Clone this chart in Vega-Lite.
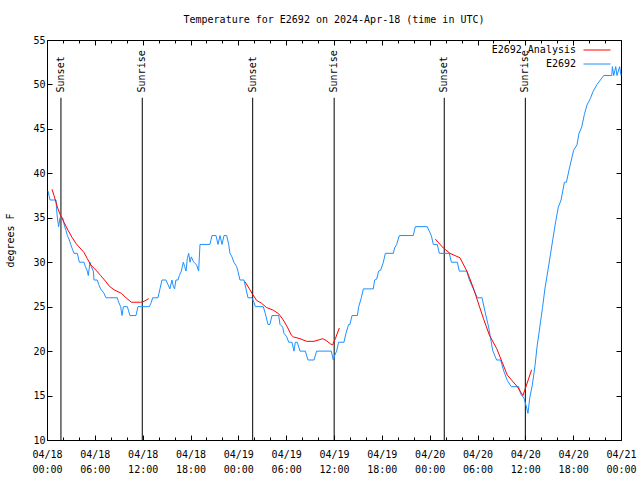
{
  "$schema": "https://vega.github.io/schema/vega-lite/v6.json",
  "width": 574,
  "height": 400,
  "autosize": {"type": "none"},
  "padding": {"left": 47, "top": 40, "right": 19, "bottom": 40},
  "background": "white",
  "config": {
    "font": "DejaVu Sans Mono",
    "view": {"stroke": "black", "strokeWidth": 1},
    "axis": {"labelFont": "DejaVu Sans Mono", "titleFont": "DejaVu Sans Mono", "labelFontSize": 10, "titleFontSize": 10, "labelColor": "black", "titleColor": "black", "titleFontWeight": "normal", "domainColor": "black", "tickColor": "black", "grid": false},
    "legend": {"labelFont": "DejaVu Sans Mono", "labelFontSize": 10, "labelColor": "black"}
  },
  "title": {"text": "Temperature for E2692 on 2024-Apr-18 (time in UTC)", "font": "DejaVu Sans Mono", "fontSize": 10, "fontWeight": "normal", "color": "black", "offset": 10, "anchor": "middle"},
  "datasets": {
    "temps": [
      {"series": "E2692", "seg": "o", "hour": 0.13, "temp": 38},
      {"series": "E2692", "seg": "o", "hour": 0.38, "temp": 37},
      {"series": "E2692", "seg": "o", "hour": 1.13, "temp": 37},
      {"series": "E2692", "seg": "o", "hour": 1.2, "temp": 36},
      {"series": "E2692", "seg": "o", "hour": 1.3, "temp": 35},
      {"series": "E2692", "seg": "o", "hour": 1.46, "temp": 34},
      {"series": "E2692", "seg": "o", "hour": 1.63, "temp": 35},
      {"series": "E2692", "seg": "o", "hour": 1.97, "temp": 35},
      {"series": "E2692", "seg": "o", "hour": 2.22, "temp": 34},
      {"series": "E2692", "seg": "o", "hour": 2.38, "temp": 33.6},
      {"series": "E2692", "seg": "o", "hour": 2.55, "temp": 33},
      {"series": "E2692", "seg": "o", "hour": 2.8, "temp": 32.5},
      {"series": "E2692", "seg": "o", "hour": 2.97, "temp": 32},
      {"series": "E2692", "seg": "o", "hour": 3.22, "temp": 31.4},
      {"series": "E2692", "seg": "o", "hour": 3.39, "temp": 31},
      {"series": "E2692", "seg": "o", "hour": 3.8, "temp": 31},
      {"series": "E2692", "seg": "o", "hour": 4.06, "temp": 30},
      {"series": "E2692", "seg": "o", "hour": 4.64, "temp": 30},
      {"series": "E2692", "seg": "o", "hour": 4.81, "temp": 29.5},
      {"series": "E2692", "seg": "o", "hour": 5.06, "temp": 29},
      {"series": "E2692", "seg": "o", "hour": 5.18, "temp": 28.5},
      {"series": "E2692", "seg": "o", "hour": 5.39, "temp": 30},
      {"series": "E2692", "seg": "o", "hour": 5.56, "temp": 29.5},
      {"series": "E2692", "seg": "o", "hour": 5.81, "temp": 29},
      {"series": "E2692", "seg": "o", "hour": 5.9, "temp": 28},
      {"series": "E2692", "seg": "o", "hour": 6.31, "temp": 28},
      {"series": "E2692", "seg": "o", "hour": 6.48, "temp": 27.5},
      {"series": "E2692", "seg": "o", "hour": 6.73, "temp": 27},
      {"series": "E2692", "seg": "o", "hour": 7.15, "temp": 26.5},
      {"series": "E2692", "seg": "o", "hour": 7.4, "temp": 26},
      {"series": "E2692", "seg": "o", "hour": 8.82, "temp": 26},
      {"series": "E2692", "seg": "o", "hour": 8.99, "temp": 25.5},
      {"series": "E2692", "seg": "o", "hour": 9.24, "temp": 25},
      {"series": "E2692", "seg": "o", "hour": 9.41, "temp": 24},
      {"series": "E2692", "seg": "o", "hour": 9.58, "temp": 25},
      {"series": "E2692", "seg": "o", "hour": 10.08, "temp": 25},
      {"series": "E2692", "seg": "o", "hour": 10.24, "temp": 24.5},
      {"series": "E2692", "seg": "o", "hour": 10.41, "temp": 24},
      {"series": "E2692", "seg": "o", "hour": 11.16, "temp": 24},
      {"series": "E2692", "seg": "o", "hour": 11.41, "temp": 25},
      {"series": "E2692", "seg": "o", "hour": 12.84, "temp": 25},
      {"series": "E2692", "seg": "o", "hour": 13.09, "temp": 25.5},
      {"series": "E2692", "seg": "o", "hour": 13.25, "temp": 26},
      {"series": "E2692", "seg": "o", "hour": 13.92, "temp": 26},
      {"series": "E2692", "seg": "o", "hour": 14.17, "temp": 27},
      {"series": "E2692", "seg": "o", "hour": 14.42, "temp": 28},
      {"series": "E2692", "seg": "o", "hour": 14.92, "temp": 28},
      {"series": "E2692", "seg": "o", "hour": 15.17, "temp": 27.5},
      {"series": "E2692", "seg": "o", "hour": 15.42, "temp": 27},
      {"series": "E2692", "seg": "o", "hour": 15.67, "temp": 28},
      {"series": "E2692", "seg": "o", "hour": 15.84, "temp": 27.3},
      {"series": "E2692", "seg": "o", "hour": 16.0, "temp": 27},
      {"series": "E2692", "seg": "o", "hour": 16.17, "temp": 28},
      {"series": "E2692", "seg": "o", "hour": 16.43, "temp": 28},
      {"series": "E2692", "seg": "o", "hour": 16.6, "temp": 28.5},
      {"series": "E2692", "seg": "o", "hour": 16.85, "temp": 29},
      {"series": "E2692", "seg": "o", "hour": 17.1, "temp": 30},
      {"series": "E2692", "seg": "o", "hour": 17.27, "temp": 29.5},
      {"series": "E2692", "seg": "o", "hour": 17.44, "temp": 29},
      {"series": "E2692", "seg": "o", "hour": 17.6, "temp": 30.4},
      {"series": "E2692", "seg": "o", "hour": 17.77, "temp": 31},
      {"series": "E2692", "seg": "o", "hour": 17.94, "temp": 30},
      {"series": "E2692", "seg": "o", "hour": 18.1, "temp": 30.6},
      {"series": "E2692", "seg": "o", "hour": 18.35, "temp": 30.1},
      {"series": "E2692", "seg": "o", "hour": 18.52, "temp": 29.9},
      {"series": "E2692", "seg": "o", "hour": 18.77, "temp": 29.7},
      {"series": "E2692", "seg": "o", "hour": 19.02, "temp": 29},
      {"series": "E2692", "seg": "o", "hour": 19.19, "temp": 32},
      {"series": "E2692", "seg": "o", "hour": 20.44, "temp": 32},
      {"series": "E2692", "seg": "o", "hour": 20.7, "temp": 33},
      {"series": "E2692", "seg": "o", "hour": 21.2, "temp": 33},
      {"series": "E2692", "seg": "o", "hour": 21.45, "temp": 32},
      {"series": "E2692", "seg": "o", "hour": 21.7, "temp": 33},
      {"series": "E2692", "seg": "o", "hour": 21.95, "temp": 32},
      {"series": "E2692", "seg": "o", "hour": 22.2, "temp": 33},
      {"series": "E2692", "seg": "o", "hour": 22.54, "temp": 33},
      {"series": "E2692", "seg": "o", "hour": 22.79, "temp": 32},
      {"series": "E2692", "seg": "o", "hour": 22.95, "temp": 31},
      {"series": "E2692", "seg": "o", "hour": 23.2, "temp": 30.6},
      {"series": "E2692", "seg": "o", "hour": 23.45, "temp": 30},
      {"series": "E2692", "seg": "o", "hour": 23.79, "temp": 29.5},
      {"series": "E2692", "seg": "o", "hour": 23.95, "temp": 29},
      {"series": "E2692", "seg": "o", "hour": 24.2, "temp": 28},
      {"series": "E2692", "seg": "o", "hour": 24.71, "temp": 28},
      {"series": "E2692", "seg": "o", "hour": 24.96, "temp": 27},
      {"series": "E2692", "seg": "o", "hour": 25.21, "temp": 26},
      {"series": "E2692", "seg": "o", "hour": 25.71, "temp": 26},
      {"series": "E2692", "seg": "o", "hour": 25.96, "temp": 25.5},
      {"series": "E2692", "seg": "o", "hour": 26.13, "temp": 25},
      {"series": "E2692", "seg": "o", "hour": 27.13, "temp": 25},
      {"series": "E2692", "seg": "o", "hour": 27.39, "temp": 24.2},
      {"series": "E2692", "seg": "o", "hour": 27.72, "temp": 23},
      {"series": "E2692", "seg": "o", "hour": 27.97, "temp": 23},
      {"series": "E2692", "seg": "o", "hour": 28.22, "temp": 24},
      {"series": "E2692", "seg": "o", "hour": 29.06, "temp": 24},
      {"series": "E2692", "seg": "o", "hour": 29.23, "temp": 23},
      {"series": "E2692", "seg": "o", "hour": 29.56, "temp": 22.7},
      {"series": "E2692", "seg": "o", "hour": 29.73, "temp": 22},
      {"series": "E2692", "seg": "o", "hour": 30.07, "temp": 21.6},
      {"series": "E2692", "seg": "o", "hour": 30.32, "temp": 21},
      {"series": "E2692", "seg": "o", "hour": 30.73, "temp": 21},
      {"series": "E2692", "seg": "o", "hour": 30.98, "temp": 20},
      {"series": "E2692", "seg": "o", "hour": 31.15, "temp": 21},
      {"series": "E2692", "seg": "o", "hour": 31.4, "temp": 21},
      {"series": "E2692", "seg": "o", "hour": 31.73, "temp": 20},
      {"series": "E2692", "seg": "o", "hour": 32.4, "temp": 20},
      {"series": "E2692", "seg": "o", "hour": 32.74, "temp": 19},
      {"series": "E2692", "seg": "o", "hour": 33.49, "temp": 19},
      {"series": "E2692", "seg": "o", "hour": 33.82, "temp": 20},
      {"series": "E2692", "seg": "o", "hour": 35.66, "temp": 20},
      {"series": "E2692", "seg": "o", "hour": 35.91, "temp": 19},
      {"series": "E2692", "seg": "o", "hour": 36.08, "temp": 19.5},
      {"series": "E2692", "seg": "o", "hour": 36.33, "temp": 20},
      {"series": "E2692", "seg": "o", "hour": 36.58, "temp": 21},
      {"series": "E2692", "seg": "o", "hour": 37.25, "temp": 21},
      {"series": "E2692", "seg": "o", "hour": 37.5, "temp": 22},
      {"series": "E2692", "seg": "o", "hour": 37.84, "temp": 23},
      {"series": "E2692", "seg": "o", "hour": 38.0, "temp": 23},
      {"series": "E2692", "seg": "o", "hour": 38.26, "temp": 24},
      {"series": "E2692", "seg": "o", "hour": 38.93, "temp": 24},
      {"series": "E2692", "seg": "o", "hour": 39.1, "temp": 25},
      {"series": "E2692", "seg": "o", "hour": 39.43, "temp": 26},
      {"series": "E2692", "seg": "o", "hour": 39.68, "temp": 27},
      {"series": "E2692", "seg": "o", "hour": 40.93, "temp": 27},
      {"series": "E2692", "seg": "o", "hour": 41.1, "temp": 28},
      {"series": "E2692", "seg": "o", "hour": 41.35, "temp": 28.1},
      {"series": "E2692", "seg": "o", "hour": 41.6, "temp": 29},
      {"series": "E2692", "seg": "o", "hour": 41.85, "temp": 29.1},
      {"series": "E2692", "seg": "o", "hour": 42.19, "temp": 30},
      {"series": "E2692", "seg": "o", "hour": 42.44, "temp": 31},
      {"series": "E2692", "seg": "o", "hour": 43.44, "temp": 31},
      {"series": "E2692", "seg": "o", "hour": 43.6, "temp": 31.6},
      {"series": "E2692", "seg": "o", "hour": 43.86, "temp": 32},
      {"series": "E2692", "seg": "o", "hour": 44.19, "temp": 33},
      {"series": "E2692", "seg": "o", "hour": 45.94, "temp": 33},
      {"series": "E2692", "seg": "o", "hour": 46.2, "temp": 34},
      {"series": "E2692", "seg": "o", "hour": 47.7, "temp": 34},
      {"series": "E2692", "seg": "o", "hour": 47.95, "temp": 33.5},
      {"series": "E2692", "seg": "o", "hour": 48.21, "temp": 33},
      {"series": "E2692", "seg": "o", "hour": 48.46, "temp": 32},
      {"series": "E2692", "seg": "o", "hour": 48.96, "temp": 32},
      {"series": "E2692", "seg": "o", "hour": 49.21, "temp": 31},
      {"series": "E2692", "seg": "o", "hour": 50.47, "temp": 31},
      {"series": "E2692", "seg": "o", "hour": 50.72, "temp": 30},
      {"series": "E2692", "seg": "o", "hour": 51.47, "temp": 30},
      {"series": "E2692", "seg": "o", "hour": 51.72, "temp": 29},
      {"series": "E2692", "seg": "o", "hour": 52.64, "temp": 29},
      {"series": "E2692", "seg": "o", "hour": 52.98, "temp": 28},
      {"series": "E2692", "seg": "o", "hour": 53.48, "temp": 27},
      {"series": "E2692", "seg": "o", "hour": 53.98, "temp": 26},
      {"series": "E2692", "seg": "o", "hour": 54.57, "temp": 26},
      {"series": "E2692", "seg": "o", "hour": 54.9, "temp": 24.6},
      {"series": "E2692", "seg": "o", "hour": 55.4, "temp": 22.7},
      {"series": "E2692", "seg": "o", "hour": 55.9, "temp": 20.1},
      {"series": "E2692", "seg": "o", "hour": 56.4, "temp": 19},
      {"series": "E2692", "seg": "o", "hour": 56.9, "temp": 19},
      {"series": "E2692", "seg": "o", "hour": 57.32, "temp": 17.7},
      {"series": "E2692", "seg": "o", "hour": 57.74, "temp": 16.7},
      {"series": "E2692", "seg": "o", "hour": 58.24, "temp": 16},
      {"series": "E2692", "seg": "o", "hour": 59.16, "temp": 16},
      {"series": "E2692", "seg": "o", "hour": 59.41, "temp": 15.2},
      {"series": "E2692", "seg": "o", "hour": 59.83, "temp": 14.7},
      {"series": "E2692", "seg": "o", "hour": 60.17, "temp": 13.6},
      {"series": "E2692", "seg": "o", "hour": 60.33, "temp": 13},
      {"series": "E2692", "seg": "o", "hour": 60.55, "temp": 14.7},
      {"series": "E2692", "seg": "o", "hour": 60.88, "temp": 16.2},
      {"series": "E2692", "seg": "o", "hour": 61.22, "temp": 18.4},
      {"series": "E2692", "seg": "o", "hour": 61.47, "temp": 20.5},
      {"series": "E2692", "seg": "o", "hour": 61.8, "temp": 22.6},
      {"series": "E2692", "seg": "o", "hour": 62.14, "temp": 24.8},
      {"series": "E2692", "seg": "o", "hour": 62.47, "temp": 27.1},
      {"series": "E2692", "seg": "o", "hour": 62.8, "temp": 28.9},
      {"series": "E2692", "seg": "o", "hour": 63.14, "temp": 30.8},
      {"series": "E2692", "seg": "o", "hour": 63.47, "temp": 32.7},
      {"series": "E2692", "seg": "o", "hour": 63.81, "temp": 34.6},
      {"series": "E2692", "seg": "o", "hour": 64.14, "temp": 36.2},
      {"series": "E2692", "seg": "o", "hour": 64.48, "temp": 37},
      {"series": "E2692", "seg": "o", "hour": 64.9, "temp": 39},
      {"series": "E2692", "seg": "o", "hour": 65.15, "temp": 39},
      {"series": "E2692", "seg": "o", "hour": 65.56, "temp": 40.7},
      {"series": "E2692", "seg": "o", "hour": 66.06, "temp": 42.6},
      {"series": "E2692", "seg": "o", "hour": 66.48, "temp": 43.2},
      {"series": "E2692", "seg": "o", "hour": 66.73, "temp": 44.5},
      {"series": "E2692", "seg": "o", "hour": 67.07, "temp": 45.2},
      {"series": "E2692", "seg": "o", "hour": 67.4, "temp": 46.6},
      {"series": "E2692", "seg": "o", "hour": 67.74, "temp": 47.7},
      {"series": "E2692", "seg": "o", "hour": 68.15, "temp": 48.4},
      {"series": "E2692", "seg": "o", "hour": 68.49, "temp": 49.2},
      {"series": "E2692", "seg": "o", "hour": 68.99, "temp": 50},
      {"series": "E2692", "seg": "o", "hour": 69.41, "temp": 50.5},
      {"series": "E2692", "seg": "o", "hour": 69.83, "temp": 51},
      {"series": "E2692", "seg": "o", "hour": 70.84, "temp": 51},
      {"series": "E2692", "seg": "o", "hour": 70.92, "temp": 52},
      {"series": "E2692", "seg": "o", "hour": 71.09, "temp": 51},
      {"series": "E2692", "seg": "o", "hour": 71.34, "temp": 52},
      {"series": "E2692", "seg": "o", "hour": 71.5, "temp": 51},
      {"series": "E2692", "seg": "o", "hour": 71.83, "temp": 52},
      {"series": "E2692", "seg": "o", "hour": 72.0, "temp": 51},
      {"series": "E2692 Analysis", "seg": "a1", "hour": 0.63, "temp": 38.2},
      {"series": "E2692 Analysis", "seg": "a1", "hour": 0.88, "temp": 37.5},
      {"series": "E2692 Analysis", "seg": "a1", "hour": 1.3, "temp": 36.2},
      {"series": "E2692 Analysis", "seg": "a1", "hour": 1.63, "temp": 35.4},
      {"series": "E2692 Analysis", "seg": "a1", "hour": 2.13, "temp": 34.5},
      {"series": "E2692 Analysis", "seg": "a1", "hour": 2.63, "temp": 33.6},
      {"series": "E2692 Analysis", "seg": "a1", "hour": 3.14, "temp": 32.8},
      {"series": "E2692 Analysis", "seg": "a1", "hour": 3.64, "temp": 32.1},
      {"series": "E2692 Analysis", "seg": "a1", "hour": 4.14, "temp": 31.6},
      {"series": "E2692 Analysis", "seg": "a1", "hour": 4.64, "temp": 31.1},
      {"series": "E2692 Analysis", "seg": "a1", "hour": 5.06, "temp": 30.4},
      {"series": "E2692 Analysis", "seg": "a1", "hour": 5.48, "temp": 29.7},
      {"series": "E2692 Analysis", "seg": "a1", "hour": 6.15, "temp": 29.1},
      {"series": "E2692 Analysis", "seg": "a1", "hour": 6.73, "temp": 28.5},
      {"series": "E2692 Analysis", "seg": "a1", "hour": 7.4, "temp": 27.8},
      {"series": "E2692 Analysis", "seg": "a1", "hour": 7.82, "temp": 27.3},
      {"series": "E2692 Analysis", "seg": "a1", "hour": 8.4, "temp": 26.9},
      {"series": "E2692 Analysis", "seg": "a1", "hour": 9.33, "temp": 26.5},
      {"series": "E2692 Analysis", "seg": "a1", "hour": 9.91, "temp": 26},
      {"series": "E2692 Analysis", "seg": "a1", "hour": 10.58, "temp": 25.5},
      {"series": "E2692 Analysis", "seg": "a1", "hour": 11.75, "temp": 25.5},
      {"series": "E2692 Analysis", "seg": "a1", "hour": 12.17, "temp": 25.6},
      {"series": "E2692 Analysis", "seg": "a1", "hour": 12.75, "temp": 25.9},
      {"series": "E2692 Analysis", "seg": "a2", "hour": 24.84, "temp": 27.8},
      {"series": "E2692 Analysis", "seg": "a2", "hour": 25.46, "temp": 26.9},
      {"series": "E2692 Analysis", "seg": "a2", "hour": 25.71, "temp": 26.5},
      {"series": "E2692 Analysis", "seg": "a2", "hour": 26.3, "temp": 25.7},
      {"series": "E2692 Analysis", "seg": "a2", "hour": 26.89, "temp": 25.4},
      {"series": "E2692 Analysis", "seg": "a2", "hour": 27.55, "temp": 24.9},
      {"series": "E2692 Analysis", "seg": "a2", "hour": 28.39, "temp": 24.6},
      {"series": "E2692 Analysis", "seg": "a2", "hour": 29.06, "temp": 24.2},
      {"series": "E2692 Analysis", "seg": "a2", "hour": 29.64, "temp": 23.5},
      {"series": "E2692 Analysis", "seg": "a2", "hour": 30.15, "temp": 22.7},
      {"series": "E2692 Analysis", "seg": "a2", "hour": 30.65, "temp": 21.8},
      {"series": "E2692 Analysis", "seg": "a2", "hour": 30.9, "temp": 21.6},
      {"series": "E2692 Analysis", "seg": "a2", "hour": 31.73, "temp": 21.4},
      {"series": "E2692 Analysis", "seg": "a2", "hour": 32.57, "temp": 21.1},
      {"series": "E2692 Analysis", "seg": "a2", "hour": 33.49, "temp": 21.1},
      {"series": "E2692 Analysis", "seg": "a2", "hour": 34.24, "temp": 21.3},
      {"series": "E2692 Analysis", "seg": "a2", "hour": 34.58, "temp": 21.4},
      {"series": "E2692 Analysis", "seg": "a2", "hour": 35.0, "temp": 21.2},
      {"series": "E2692 Analysis", "seg": "a2", "hour": 35.58, "temp": 20.8},
      {"series": "E2692 Analysis", "seg": "a2", "hour": 35.83, "temp": 20.7},
      {"series": "E2692 Analysis", "seg": "a2", "hour": 36.17, "temp": 21.4},
      {"series": "E2692 Analysis", "seg": "a2", "hour": 36.67, "temp": 22.6},
      {"series": "E2692 Analysis", "seg": "a3", "hour": 48.71, "temp": 32.6},
      {"series": "E2692 Analysis", "seg": "a3", "hour": 49.71, "temp": 31.6},
      {"series": "E2692 Analysis", "seg": "a3", "hour": 50.55, "temp": 31},
      {"series": "E2692 Analysis", "seg": "a3", "hour": 51.8, "temp": 30.5},
      {"series": "E2692 Analysis", "seg": "a3", "hour": 52.72, "temp": 28.9},
      {"series": "E2692 Analysis", "seg": "a3", "hour": 53.48, "temp": 27.1},
      {"series": "E2692 Analysis", "seg": "a3", "hour": 54.73, "temp": 23.7},
      {"series": "E2692 Analysis", "seg": "a3", "hour": 55.49, "temp": 21.8},
      {"series": "E2692 Analysis", "seg": "a3", "hour": 56.4, "temp": 20.3},
      {"series": "E2692 Analysis", "seg": "a3", "hour": 57.74, "temp": 17.3},
      {"series": "E2692 Analysis", "seg": "a3", "hour": 58.99, "temp": 16},
      {"series": "E2692 Analysis", "seg": "a3", "hour": 59.7, "temp": 15},
      {"series": "E2692 Analysis", "seg": "a3", "hour": 60.79, "temp": 17.9}
    ],
    "sun": [
      {"event": "Sunset", "hour": 1.75},
      {"event": "Sunrise", "hour": 11.95},
      {"event": "Sunset", "hour": 25.8},
      {"event": "Sunrise", "hour": 36.02},
      {"event": "Sunset", "hour": 49.83},
      {"event": "Sunrise", "hour": 60.0}
    ]
  },
  "resolve": {"axis": {"x": "independent", "y": "independent"}},
  "layer": [
    {
      "data": {"name": "sun"},
      "mark": {"type": "rule", "color": "black", "strokeWidth": 1},
      "encoding": {
        "x": {"field": "hour", "type": "quantitative", "scale": {"domain": [0, 72], "nice": false},
              "axis": {"orient": "top", "values": [0, 6, 12, 18, 24, 30, 36, 42, 48, 54, 60, 66, 72], "labels": false, "tickSize": -5, "domain": false, "title": null}},
        "y": {"datum": 10, "type": "quantitative", "scale": {"domain": [10, 55], "nice": false},
              "axis": {"orient": "right", "values": [10, 15, 20, 25, 30, 35, 40, 45, 50, 55], "labels": false, "tickSize": -5, "domain": false, "title": null}},
        "y2": {"datum": 48.5}
      }
    },
    {
      "data": {"name": "sun"},
      "mark": {"type": "text", "angle": 270, "align": "left", "baseline": "middle", "font": "DejaVu Sans Mono", "fontSize": 10, "color": "black"},
      "encoding": {
        "x": {"field": "hour", "type": "quantitative",
              "axis": {"orient": "bottom", "values": [2, 4, 8, 10, 14, 16, 20, 22, 26, 28, 32, 34, 38, 40, 44, 46, 50, 52, 56, 58, 62, 64, 68, 70], "labels": false, "tickSize": -3, "domain": false, "title": null}},
        "y": {"datum": 49.1, "type": "quantitative", "axis": null},
        "text": {"field": "event"}
      }
    },
    {
      "data": {"name": "sun"},
      "mark": {"type": "rule", "opacity": 0},
      "encoding": {
        "x": {"field": "hour", "type": "quantitative",
              "axis": {"orient": "top", "values": [2, 4, 8, 10, 14, 16, 20, 22, 26, 28, 32, 34, 38, 40, 44, 46, 50, 52, 56, 58, 62, 64, 68, 70], "labels": false, "tickSize": -3, "domain": false, "title": null}},
        "y": {"datum": 10, "type": "quantitative", "axis": null}
      }
    },
    {
      "data": {"name": "temps"},
      "mark": {"type": "line", "strokeWidth": 1, "interpolate": "linear"},
      "encoding": {
        "x": {"field": "hour", "type": "quantitative",
              "axis": {"orient": "bottom", "values": [0, 6, 12, 18, 24, 30, 36, 42, 48, 54, 60, 66, 72], "tickSize": -5, "labelPadding": 14, "labelLineHeight": 15, "labelBaseline": "top", "labelFlush": false, "labelOverlap": false, "title": null,
                       "labelExpr": "['04/' + (18 + floor(datum.value / 24)), (datum.value % 24 < 10 ? '0' : '') + (datum.value % 24) + ':00']"}},
        "y": {"field": "temp", "type": "quantitative",
              "axis": {"orient": "left", "values": [10, 15, 20, 25, 30, 35, 40, 45, 50, 55], "tickSize": -5, "labelPadding": 7, "title": "degrees F", "titlePadding": 17}},
        "color": {"field": "series", "type": "nominal",
                  "scale": {"domain": ["E2692 Analysis", "E2692"], "range": ["#ff0000", "#1e90ff"]},
                  "legend": {"title": null, "orient": "none", "legendX": 545, "legendY": 5, "symbolType": "M-3,0L3,0", "symbolSize": 81, "symbolStrokeWidth": 1, "labelAlign": "right", "labelOffset": -26, "rowPadding": 4, "padding": 0}},
        "detail": {"field": "seg"}
      }
    }
  ]
}
